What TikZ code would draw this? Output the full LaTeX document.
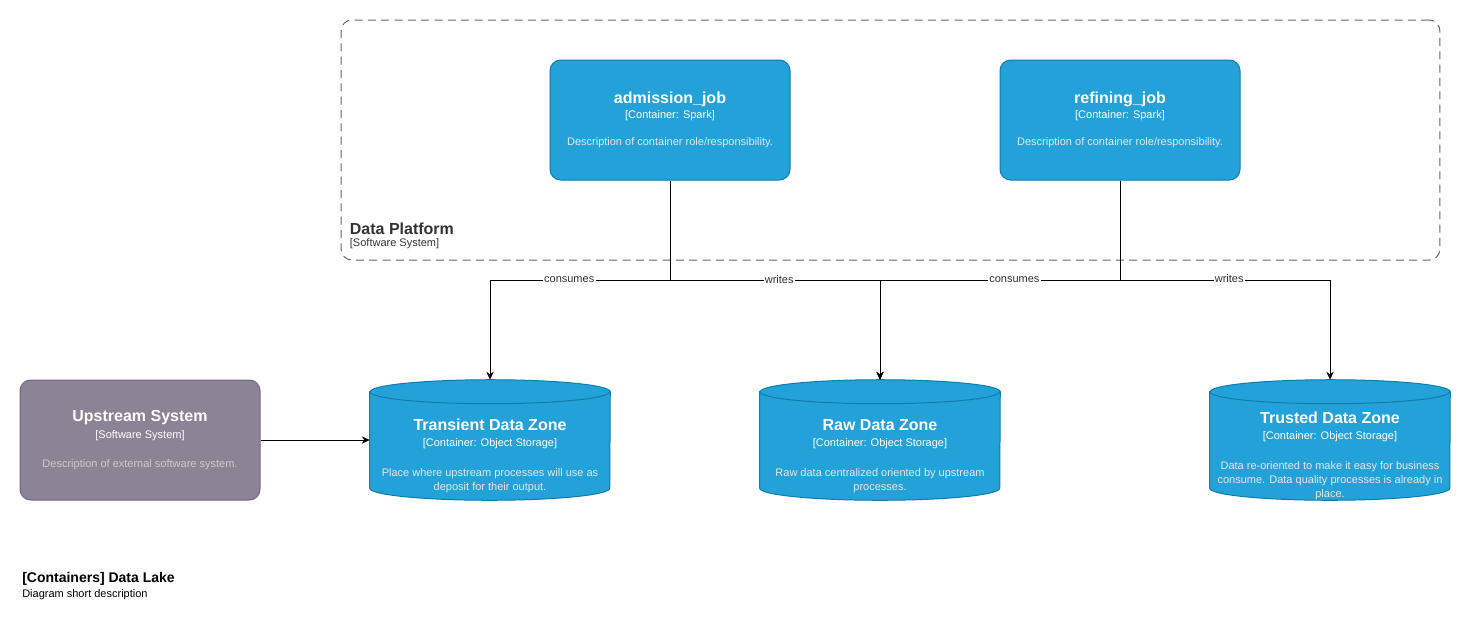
\documentclass[tikz,border=0pt]{standalone}
\usepackage{fontspec}
\setmainfont{Liberation Sans}
\usetikzlibrary{shapes.geometric, arrows.meta, positioning, calc, backgrounds}
\usepackage{xcolor}

\definecolor{c4blue}{HTML}{23A2D9}
\definecolor{c4blueline}{HTML}{0E7DAD}
\definecolor{c4ext}{HTML}{8C8496}
\definecolor{c4extline}{HTML}{736782}
\definecolor{c4desc}{HTML}{E6E6E6}
\definecolor{c4extdesc}{HTML}{CCCCCC}
\definecolor{c4bound}{HTML}{666666}
\definecolor{c4text}{HTML}{333333}

\newcommand{\bigname}[1]{{\fontsize{12}{14}\selectfont\bfseries #1}}

\begin{document}
\begin{tikzpicture}[x=0.75pt, y=-0.75pt, font=\fontsize{8.25}{10.5}\selectfont,
    container/.style={draw=c4blueline, fill=c4blue, line width=0.75pt, text=white, rounded corners=8pt, minimum width=180pt, minimum height=90pt, align=center},
    extsys/.style={draw=c4extline, fill=c4ext, line width=0.75pt, text=white, rounded corners=8pt, minimum width=180pt, minimum height=90pt, align=center},
    zone/.style={rectangle, minimum width=180pt, minimum height=90pt, inner sep=0pt},
    zonetext/.style={text=white, align=center, yshift=-12pt},
    rel/.style={-{Stealth[length=6pt, width=5.5pt]}, line width=0.75pt},
    rellabel/.style={fill=white, inner sep=1pt, text=c4text}]
    \useasboundingbox (0,0) rectangle (1471,622);

    % software system boundary
    \node[draw=c4bound, line width=0.75pt, dash pattern=on 6pt off 4pt, rounded corners=8pt, minimum width=824pt, minimum height=180pt] (platform) at (890.5,140) {};
    \node[anchor=south west, align=left, inner sep=0pt, text=c4text] (platformlabel) at ($(platform.south west)+(9,-11)$) {\bigname{Data Platform}\\[-1pt] {[Software System]}};

    % containers
    \node[container] (adm) at (670,120) {\bigname{admission\_job}\\[1pt] {[Container: Spark]}\\[10pt] {\color{c4desc}Description of container role/responsibility.}};
    \node[container] (ref) at (1120,120) {\bigname{refining\_job}\\[1pt] {[Container: Spark]}\\[10pt] {\color{c4desc}Description of container role/responsibility.}};

    \node[extsys] (up) at (140,440) {\bigname{Upstream System}\\[2pt] {[Software System]}\\[11pt] {\color{c4extdesc}Description of external software system.}};

    % storage zones
    \node[zone, label={[zonetext]center:{\bigname{Transient Data Zone}\\[1pt] {[Container: Object Storage]}\\[12pt] {\color{c4desc}Place where upstream processes will use as}\\ {\color{c4desc}deposit for their output.}}}] (trans) at (490,440) {};
    \node[zone, label={[zonetext]center:{\bigname{Raw Data Zone}\\[1pt] {[Container: Object Storage]}\\[12pt] {\color{c4desc}Raw data centralized oriented by upstream}\\ {\color{c4desc}processes.}}}] (raw) at (880,440) {};
    \node[zone, label={[zonetext]center:{\bigname{Trusted Data Zone}\\[1pt] {[Container: Object Storage]}\\[12pt] {\color{c4desc}Data re-oriented to make it easy for business}\\ {\color{c4desc}consume. Data quality processes is already in}\\ {\color{c4desc}place.}}}] (trust) at (1330,440) {};

    % cylinder bodies behind the zone texts
    \begin{scope}[on background layer]
        \foreach \z in {trans, raw, trust} {
            \filldraw[fill=c4blue, draw=c4blueline, line width=0.75pt]
                ($(\z.north west)+(0,12)$) -- ($(\z.south west)+(0,-12)$)
                arc[start angle=180, end angle=360, x radius=90pt, y radius=9pt]
                -- ($(\z.north east)+(0,12)$)
                arc[start angle=0, end angle=180, x radius=90pt, y radius=9pt] -- cycle;
            \draw[c4blueline, line width=0.75pt] ($(\z.north west)+(0,12)$)
                arc[start angle=180, end angle=360, x radius=90pt, y radius=9pt];
        }
    \end{scope}

    % relations
    \coordinate (admfork) at (670,280);
    \coordinate (reffork) at (1120,280);
    \draw[line width=0.75pt] (adm) -- (admfork);
    \draw[line width=0.75pt] (ref) -- (reffork);
    \draw[rel] (admfork) -| node[rellabel, pos=0.28] {consumes} (trans.north);
    \draw[rel] (admfork) -| node[rellabel, pos=0.26] {writes} (raw.north);
    \draw[rel] (reffork) -| node[rellabel, pos=0.22] {consumes} (raw.north);
    \draw[rel] (reffork) -| node[rellabel, pos=0.26, yshift=1pt] {writes} (trust.north);
    \draw[rel] (up) -- (trans);

    % title
    \node[anchor=west, inner sep=0pt, font=\fontsize{10.5}{12}\selectfont\bfseries] (title) at (22,579) {[Containers] Data Lake};
    \node[anchor=west, inner sep=0pt] (subtitle) at (22,595) {Diagram short description};
\end{tikzpicture}
\end{document}
